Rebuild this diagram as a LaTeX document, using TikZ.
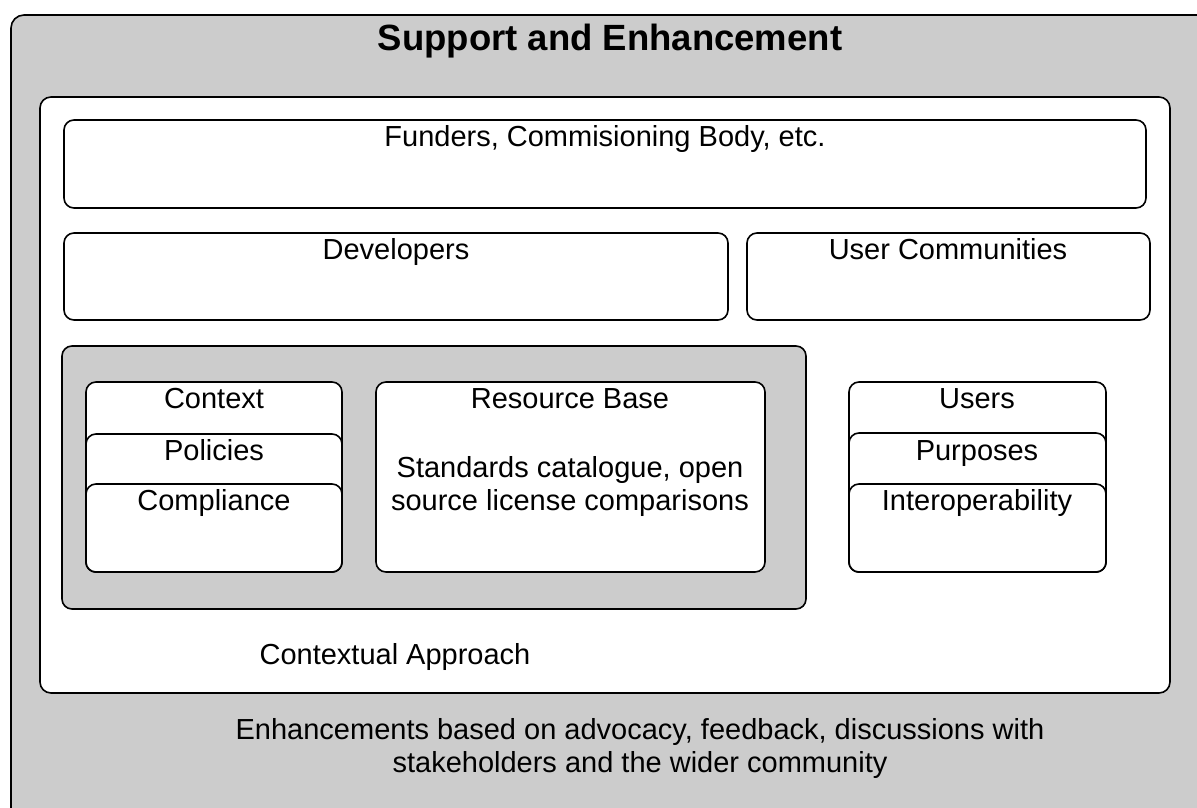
\documentclass[tikz,border=0pt]{standalone}
\usepackage{fontspec}
\setmainfont{Liberation Sans}
\definecolor{panelgray}{HTML}{CCCCCC}
\tikzset{
  rbox/.style={draw=black, line width=1.6pt, rounded corners=10pt, fill=white},
  gbox/.style={draw=black, line width=1.6pt, rounded corners=10pt, fill=panelgray},
  txt/.style={font=\fontsize{29}{33}\selectfont, inner sep=0pt, text=black, anchor=base},
}
\begin{document}
\begin{tikzpicture}[x=1pt,y=-1pt]
\useasboundingbox (0,0) rectangle (1197,808);
\clip (0,0) rectangle (1197,808);
\fill[white] (0,0) rectangle (1197,808);
% outer panel
\draw[gbox, rounded corners=13pt] (11,15) rectangle (1215,830);
\node[txt, font=\bfseries\fontsize{36.5}{40}\selectfont] (title) at (610,51) {Support and Enhancement};
% inner white panel
\draw[rbox, rounded corners=11pt] (40,97) rectangle (1170,693);
% funders
\draw[rbox] (64,120) rectangle (1146,208);
\node[txt] (funders) at (605,146) {Funders, Commisioning Body, etc.};
% developers
\draw[rbox] (64,233) rectangle (728,320);
\node[txt] (dev) at (396,259) {Developers};
% user communities
\draw[rbox] (747,233) rectangle (1150,320);
\node[txt] (uc) at (948,259) {User Communities};
% contextual gray box
\draw[gbox] (62,346) rectangle (806,609);
% context stack
\draw[rbox] (86,382) rectangle (342,572);
\draw[rbox] (86,434) rectangle (342,572);
\draw[rbox] (86,484) rectangle (342,572);
\node[txt] (context) at (214,408) {Context};
\node[txt] (policies) at (214,460) {Policies};
\node[txt] (compliance) at (214,510) {Compliance};
% resource base
\draw[rbox] (376,382) rectangle (765,572);
\node[txt] (rb) at (570,408) {Resource Base};
\node[txt] (rbtext1) at (570,477) {Standards catalogue, open};
\node[txt] (rbtext2) at (570,510) {source license comparisons};
% users stack
\draw[rbox] (849,382) rectangle (1106,572);
\draw[rbox] (849,433) rectangle (1106,572);
\draw[rbox] (849,484) rectangle (1106,572);
\node[txt] (users) at (977,408) {Users};
\node[txt] (purposes) at (977,460) {Purposes};
\node[txt] (interop) at (977,510) {Interoperability};
% labels
\node[txt] (ca) at (395,664) {Contextual Approach};
\node[txt] (enh1) at (640,739) {Enhancements based on advocacy, feedback, discussions with};
\node[txt] (enh2) at (640,772) {stakeholders and the wider community};
\end{tikzpicture}
\end{document}
